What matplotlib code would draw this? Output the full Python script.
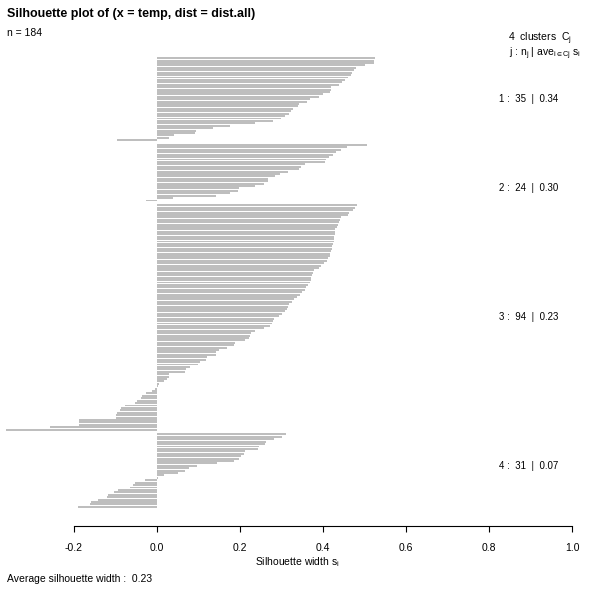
import matplotlib
matplotlib.use('Agg')
import matplotlib.pyplot as plt

plt.rcParams['font.family'] = ['Liberation Sans', 'DejaVu Sans']
plt.rcParams['mathtext.fontset'] = 'custom'
plt.rcParams['mathtext.rm'] = 'Liberation Sans'
plt.rcParams['mathtext.it'] = 'Liberation Sans'
plt.rcParams['mathtext.default'] = 'regular'

# silhouette widths, sorted within each cluster (top to bottom)
sil_c1 = [0.526, 0.524, 0.522, 0.500, 0.480, 0.474, 0.470, 0.467, 0.460, 0.454,
          0.446, 0.438, 0.419, 0.419, 0.418, 0.399, 0.390, 0.369, 0.361, 0.343,
          0.340, 0.327, 0.324, 0.319, 0.308, 0.298, 0.279, 0.235, 0.177, 0.134,
          0.094, 0.092, 0.040, 0.030, -0.096]
sil_c2 = [0.506, 0.458, 0.443, 0.431, 0.423, 0.415, 0.407, 0.406, 0.357, 0.348,
          0.341, 0.316, 0.296, 0.284, 0.267, 0.267, 0.257, 0.235, 0.197, 0.195,
          0.177, 0.143, 0.039, -0.027]
sil_c3 = [0.482, 0.478, 0.472, 0.463, 0.460, 0.444, 0.440, 0.438, 0.435, 0.434,
          0.430, 0.428, 0.428, 0.427, 0.427, 0.427, 0.424, 0.422, 0.422, 0.420,
          0.418, 0.416, 0.412, 0.410, 0.402, 0.396, 0.390, 0.378, 0.375, 0.373,
          0.372, 0.370, 0.368, 0.364, 0.360, 0.357, 0.349, 0.345, 0.337, 0.329,
          0.325, 0.319, 0.315, 0.313, 0.308, 0.301, 0.293, 0.281,
          0.279, 0.276, 0.273, 0.257, 0.235, 0.227, 0.225, 0.221, 0.213, 0.189,
          0.185, 0.169, 0.150, 0.143, 0.141, 0.120, 0.119, 0.104, 0.100, 0.080,
          0.071, 0.068, 0.030, 0.028, 0.024, 0.018, 0.004, 0.002,
          -0.004, -0.012, -0.027, -0.036, -0.038, -0.048, -0.052, -0.076, -0.086,
          -0.088, -0.096, -0.099, -0.099, -0.187, -0.189, -0.189, -0.259, -0.364]
sil_c4 = [0.311, 0.300, 0.281, 0.263, 0.261, 0.245, 0.243, 0.211, 0.210, 0.203,
          0.197, 0.185, 0.145, 0.096, 0.076, 0.068, 0.050, 0.018, 0.002,
          -0.030, -0.052, -0.059, -0.064, -0.094, -0.104, -0.118, -0.120, -0.141,
          -0.158, -0.161, -0.190]
clusters = [sil_c1, sil_c2, sil_c3, sil_c4]
cluster_avg = ['0.34', '0.30', '0.23', '0.07']
avg_width = '0.23'
xticks = [-0.2, 0.0, 0.2, 0.4, 0.6, 0.8, 1.0]
# where the cluster summary labels sit, in bar units from the top
label_rows = [17, 54, 107.5, 169]

W = H = 592
fig = plt.figure(figsize=(5.92, 5.92), dpi=100)
ax = fig.add_axes([2 / W, 1 - 508 / H, 590 / W, 451 / H])

# bar positions: one unit per observation, one empty unit between clusters
pos = 0
for s in clusters:
    ys = list(range(pos, pos + len(s)))
    ax.barh(ys, s, height=0.8, color='#bebebe', linewidth=0)
    pos += len(s) + 1

ax.set_ylim(pos - 1.5, -0.5)
ax.set_xlim((2 - 157) / 415, (592 - 157) / 415)

for side in ['top', 'right', 'left']:
    ax.spines[side].set_visible(False)
ax.spines['bottom'].set_position(('outward', 13))
ax.spines['bottom'].set_bounds(-0.2, 1.0)
ax.spines['bottom'].set_linewidth(0.8)
ax.set_yticks([])
ax.set_xticks(xticks)
ax.set_xticklabels(['%.1f' % t for t in xticks])
ax.tick_params(axis='x', length=4, width=0.8, pad=8, labelsize=7.5)
ax.set_xlabel('Silhouette width $s_i$', fontsize=7.5, labelpad=2)

n = sum(len(s) for s in clusters)
for j, s in enumerate(clusters):
    ax.text(0.966, label_rows[j], '%d :  %d  |  %s' % (j + 1, len(s), cluster_avg[j]),
            ha='right', va='center', fontsize=7)

fig.text(7 / W, 1 - 14 / H, 'Silhouette plot of (x = temp, dist = dist.all)',
         fontsize=9, fontweight='bold', va='center', ha='left')
fig.text(7 / W, 1 - 33 / H, 'n = %d' % n, fontsize=7.5, va='center', ha='left')
fig.text(572 / W, 1 - 39 / H, '%d  clusters  $C_j$' % len(clusters),
         fontsize=7.5, va='center', ha='right')
fig.text(581 / W, 1 - 54 / H, r'j : $n_j$ | $ave_{i\in Cj}$ $s_i$',
         fontsize=7.5, va='center', ha='right')
fig.text(7 / W, 1 - 579 / H, 'Average silhouette width :  %s' % avg_width,
         fontsize=7.5, va='center', ha='left')

fig.savefig('out.png', dpi=100)
